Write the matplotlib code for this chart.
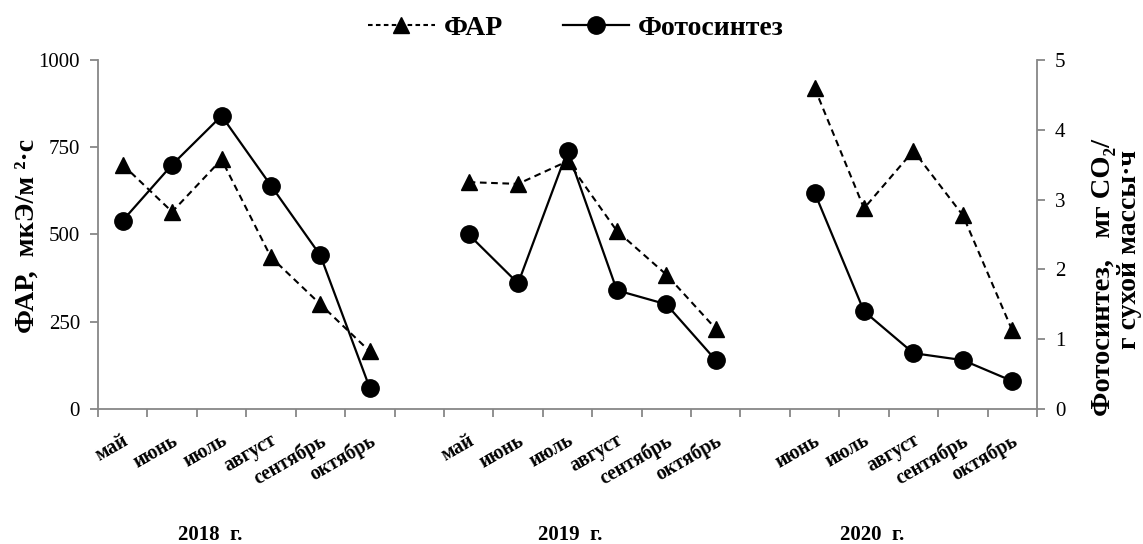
import matplotlib
matplotlib.use("Agg")
import matplotlib.pyplot as plt
from matplotlib.lines import Line2D
from matplotlib import transforms

plt.rcParams['font.family'] = ['Liberation Serif', 'DejaVu Serif']

# Category axis: three seasons separated by one empty slot each
months_2018 = ["май", "июнь", "июль", "август", "сентябрь", "октябрь"]
months_2019 = ["май", "июнь", "июль", "август", "сентябрь", "октябрь"]
months_2020 = ["июнь", "июль", "август", "сентябрь", "октябрь"]
years = ["2018  г.", "2019  г.", "2020  г."]

# ФАР, мкЭ/м²·с
far_2018 = [700, 565, 715, 435, 300, 165]
far_2019 = [650, 645, 710, 510, 385, 230]
far_2020 = [920, 575, 740, 555, 225]

# Фотосинтез, мг CO2 / г сухой массы·ч
phot_2018 = [2.7, 3.5, 4.2, 3.2, 2.2, 0.3]
phot_2019 = [2.5, 1.8, 3.7, 1.7, 1.5, 0.7]
phot_2020 = [3.1, 1.4, 0.8, 0.7, 0.4]

labels = months_2018 + [""] + months_2019 + [""] + months_2020
n_cat = len(labels)
x_2018 = list(range(0, 6))
x_2019 = list(range(7, 13))
x_2020 = list(range(14, 19))
year_x = [1.77, 9.05, 15.17]

axis_color = "#878787"

fig = plt.figure(figsize=(11.43, 5.44), dpi=100)
ax = fig.add_axes([98 / 1143, 1 - 409 / 544, (1037 - 98) / 1143, (409 - 60) / 544])
ax2 = ax.twinx()

dash = (0, (3.2, 2.2))
for xs, ys in [(x_2018, far_2018), (x_2019, far_2019), (x_2020, far_2020)]:
    ax.plot(xs, ys, color="black", linestyle=dash, linewidth=1.5,
            marker="^", markersize=12, markerfacecolor="black",
            markeredgecolor="black", clip_on=False)
for xs, ys in [(x_2018, phot_2018), (x_2019, phot_2019), (x_2020, phot_2020)]:
    ax2.plot(xs, ys, color="black", linestyle="-", linewidth=1.6,
             marker="o", markersize=12.5, markerfacecolor="black",
             markeredgecolor="black", clip_on=False)

ax.set_xlim(-0.5, n_cat - 0.5)
ax.set_ylim(0, 1000)
ax2.set_ylim(0, 5)
ax.set_yticks([0, 250, 500, 750, 1000])
ax2.set_yticks([0, 1, 2, 3, 4, 5])

# Tick marks at category boundaries, labels drawn separately
ax.set_xticks([i - 0.5 for i in range(n_cat + 1)])
ax.set_xticklabels([])

for a in (ax, ax2):
    a.spines["top"].set_visible(False)
    for s in a.spines.values():
        s.set_color(axis_color)
        s.set_linewidth(1.3)
ax.spines["right"].set_visible(False)
ax2.spines["left"].set_visible(False)
ax2.spines["bottom"].set_visible(False)

ax.tick_params(axis="x", direction="out", length=6, width=1.3, color=axis_color)
ax.tick_params(axis="y", direction="out", length=6, width=1.3, color=axis_color,
               labelsize=15, pad=7)
ax2.tick_params(axis="y", direction="out", length=6, width=1.3, color=axis_color,
                labelsize=15, pad=7)

# Rotated month labels under each category
lab_tr = transforms.blended_transform_factory(ax.transData, ax.transAxes)
for i, lab in enumerate(labels):
    if lab:
        ax.text(i - 0.02, -0.062, lab, transform=lab_tr, rotation=30,
                rotation_mode="anchor", ha="right", va="top",
                fontsize=14.2, fontweight="bold")

for xv, yl in zip(year_x, years):
    ax.text(xv, -0.36, yl, transform=lab_tr, ha="center", va="center",
            fontsize=15, fontweight="bold")

fig.text(27 / 1143, 1 - 236 / 544, "ФАР,  мкЭ/м ²·с", rotation=90,
         ha="center", va="center", fontsize=20, fontweight="bold")
fig.text(1103 / 1143, 1 - 277 / 544, "Фотосинтез,   мг CO₂/", rotation=90,
         ha="center", va="center", fontsize=20.5, fontweight="bold")
fig.text(1130 / 1143, 1 - 250 / 544, "г сухой массы·ч", rotation=90,
         ha="center", va="center", fontsize=20, fontweight="bold")

handles = [
    Line2D([], [], color="black", linestyle=(0, (2.2, 1.6)), linewidth=1.5,
           marker="^", markersize=12, markerfacecolor="black"),
    Line2D([], [], color="black", linestyle="-", linewidth=1.6,
           marker="o", markersize=12.5, markerfacecolor="black"),
]
fig.legend(handles, ["ФАР", "Фотосинтез"], loc="center", ncol=2,
           bbox_to_anchor=(576 / 1143, 1 - 28 / 544), frameon=False,
           prop={"size": 20, "weight": "bold"}, handlelength=2.4,
           handletextpad=0.32, columnspacing=2.15)

fig.savefig("out.png", dpi=100)
